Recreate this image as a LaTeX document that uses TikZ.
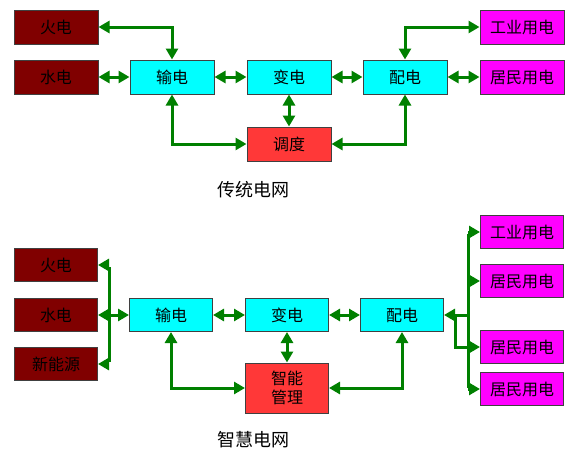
\documentclass[tikz,border=0pt]{standalone}
\usepackage{fontspec}
\newfontfamily\cjk{Noto Sans CJK SC}
\usetikzlibrary{arrows.meta}
\definecolor{maroonbox}{HTML}{800000}
\definecolor{cyanbox}{HTML}{00FFFF}
\definecolor{redbox}{HTML}{FF3838}
\definecolor{magbox}{HTML}{FF00FF}
\definecolor{linegreen}{HTML}{008000}
\tikzset{
  box/.style={draw=black!75, line width=1pt, minimum width=84pt, minimum height=34pt, inner sep=0pt, font=\cjk\fontsize{16}{19}\selectfont, align=center},
  srcbox/.style={box, fill=maroonbox},
  midbox/.style={box, fill=cyanbox},
  ctlbox/.style={box, fill=redbox},
  usebox/.style={box, fill=magbox},
  conn/.style={draw=linegreen, line width=3pt},
  both/.style={conn, {Triangle[length=11pt,width=12pt]}-{Triangle[length=11pt,width=12pt]}},
  tip/.style={conn, -{Triangle[length=11pt,width=12pt]}},
  caption/.style={font=\cjk\fontsize{18}{21}\selectfont}
}
\begin{document}
\begin{tikzpicture}[x=1pt,y=-1pt]
\useasboundingbox (0,0) rectangle (574,455);
% traditional grid
\node[srcbox] (huo1) at (56,27) {火电};
\node[srcbox] (shui1) at (56,77) {水电};
\node[midbox] (shu1) at (172,77) {输电};
\node[midbox] (bian1) at (289,77) {变电};
\node[midbox] (pei1) at (405,77) {配电};
\node[usebox] (gy1) at (522,27) {工业用电};
\node[usebox] (jm1) at (522,77) {居民用电};
\node[ctlbox] (dd) at (289,144) {调度};
\node[caption] (t1) at (253,190) {传统电网};
\draw[both] (huo1.east) -| (shu1.north);
\draw[both] (shui1.east) -- (shu1.west);
\draw[both] (shu1.east) -- (bian1.west);
\draw[both] (bian1.east) -- (pei1.west);
\draw[both] (pei1.east) -- (jm1.west);
\draw[both] (bian1.south) -- (dd.north);
\draw[both] (shu1.south) |- (dd.west);
\draw[both] (pei1.south) |- (dd.east);
\draw[both] (pei1.north) |- (gy1.west);
% smart grid
\node[srcbox, minimum width=83pt, minimum height=33pt] (huo2) at (56,265) {火电};
\node[srcbox, minimum width=83pt, minimum height=33pt] (shui2) at (56,315) {水电};
\node[srcbox, minimum width=83pt, minimum height=33pt] (xny) at (56,364) {新能源};
\node[midbox, minimum width=83pt, minimum height=33pt] (shu2) at (171,315) {输电};
\node[midbox, minimum width=83pt, minimum height=33pt] (bian2) at (287,315) {变电};
\node[midbox, minimum width=83pt, minimum height=33pt] (pei2) at (402,315) {配电};
\node[ctlbox, minimum width=83pt, minimum height=50pt] (zn) at (287,388) {智能\\管理};
\node[usebox, minimum width=83pt, minimum height=33pt] (gy2) at (522,232) {工业用电};
\node[usebox, minimum width=83pt, minimum height=33pt] (jm2) at (522,281) {居民用电};
\node[usebox, minimum width=83pt, minimum height=33pt] (jm3) at (522,347) {居民用电};
\node[usebox, minimum width=83pt, minimum height=33pt] (jm4) at (522,389) {居民用电};
\node[caption] (t2) at (253,440) {智慧电网};
\coordinate (lb) at (109,0);
\coordinate (rb) at (468,0);
\coordinate (rl) at (455,0);
% left bus
\draw[conn] ([yshift=-2pt]huo2.east -| lb) -- ([yshift=2pt]xny.east -| lb);
\draw[tip] (huo2.east -| lb) -- (huo2.east);
\draw[tip] (xny.east -| lb) -- (xny.east);
\draw[both] (shui2.east) -- (shu2.west);
\draw[both] (shu2.east) -- (bian2.west);
\draw[both] (bian2.east) -- (pei2.west);
\draw[both] (bian2.south) -- (zn.north);
\draw[both] (shu2.south) |- (zn.west);
\draw[both] (pei2.south) |- (zn.east);
% right bus
\draw[conn] ([yshift=-1.5pt]gy2.west -| rb) -- ([yshift=1.5pt]jm4.west -| rb);
\draw[tip] (pei2.east -| rb) -- (pei2.east);
\draw[conn] (pei2.east -| rl) -- (jm3.west -| rl) -- (jm3.west -| rb);
\draw[tip] (gy2.west -| rb) -- (gy2.west);
\draw[tip] (jm2.west -| rb) -- (jm2.west);
\draw[tip] (jm3.west -| rb) -- (jm3.west);
\draw[tip] (jm4.west -| rb) -- (jm4.west);
\end{tikzpicture}
\end{document}
